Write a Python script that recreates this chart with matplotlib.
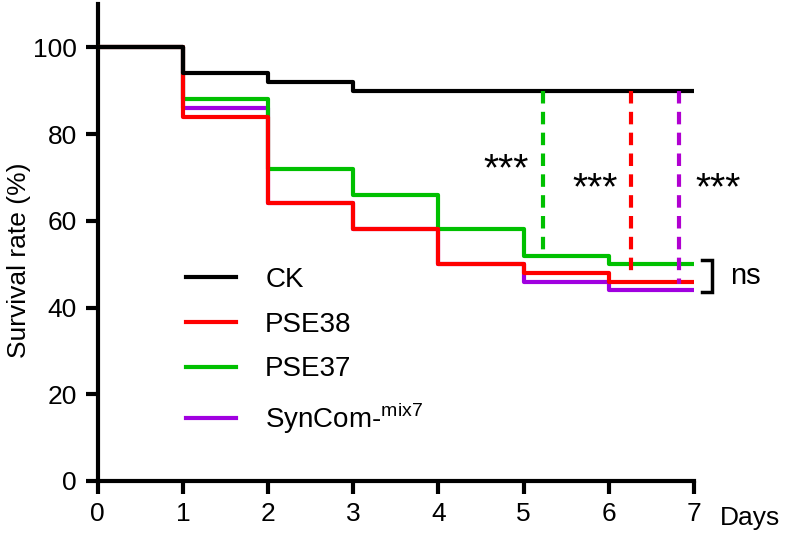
import matplotlib
matplotlib.use("Agg")
import matplotlib.pyplot as plt
import matplotlib.transforms as mtransforms

plt.rcParams['font.family'] = ['Liberation Sans', 'DejaVu Sans']
plt.rcParams['mathtext.fontset'] = 'custom'
plt.rcParams['mathtext.rm'] = 'Liberation Sans'

days = [0, 1, 2, 3, 4, 5, 6, 7]
ck = [100, 94, 92, 90, 90, 90, 90, 90]
pse38 = [100, 84, 64, 58, 50, 48, 46, 46]
pse37 = [100, 88, 72, 66, 58, 52, 50, 50]
syncom = [100, 86, 64, 58, 50, 46, 44, 44]

labels = ["CK", "PSE38", "PSE37", "SynCom-$^{\\mathrm{mix7}}$"]
colors = ["black", "#ff0000", "#00c000", "#a000e0"]

# dashed comparison lines: x position, bottom value
cmp_x = [5.23, 6.26, 6.82]
cmp_bottom = [53, 48.5, 45.5]
cmp_colors = ["#00c000", "#ff0000", "#b000d0"]
stars_pos = [(4.80, 69.4), (5.84, 65.0), (7.28, 65.0)]

fig = plt.figure(figsize=(7.86, 5.34), dpi=100)
ax = fig.add_axes([97.7/786, 53/534, (694-97.7)/786, 477/534])

lw = 3.0
ax.step(days, syncom, where='post', color=colors[3], lw=lw, zorder=2)
ax.step(days, pse37, where='post', color=colors[2], lw=lw, zorder=3)
ax.step(days, pse38, where='post', color=colors[1], lw=lw, zorder=4)
ax.step(days, ck, where='post', color=colors[0], lw=lw, zorder=5)

for x, yb, c in zip(cmp_x, cmp_bottom, cmp_colors):
    ax.plot([x, x], [ck[-1], yb], color=c, lw=lw, dashes=(3, 2), zorder=6)

for x, y in stars_pos:
    ax.text(x, y, "***", fontsize=28, ha='center', va='baseline', clip_on=False)

# ns bracket
ax.plot([7.09, 7.21, 7.21, 7.09], [50.9, 50.9, 43.6, 43.6], color='black',
        lw=2.5, clip_on=False, solid_joinstyle='miter')
ax.text(7.42, 47.3, "ns", fontsize=21, ha='left', va='center', clip_on=False)

handles = [plt.Line2D([], [], color=c, lw=lw) for c in colors]
ax.legend(handles, labels, loc='upper left', bbox_to_anchor=(186/786, 1 - 267/534),
          bbox_transform=fig.transFigure, frameon=False, fontsize=20,
          borderpad=0, borderaxespad=0, handlelength=1.8, handletextpad=1.05,
          labelspacing=0.67)

ax.set_xlim(0, 7)
ax.set_ylim(0, 110)
ax.set_xticks(days)
ax.set_yticks([0, 20, 40, 60, 80, 100])
ax.tick_params(labelsize=19, width=3, length=9, pad=6)
for s in ['top', 'right']:
    ax.spines[s].set_visible(False)
for s in ['left', 'bottom']:
    ax.spines[s].set_linewidth(3)
ax.set_ylabel("Survival rate (%)", fontsize=19)
ax.yaxis.set_label_coords(-0.112, 0.463)

trans = mtransforms.blended_transform_factory(ax.transData, ax.transAxes)
ax.text(7.3, -0.078, "Days", transform=trans, fontsize=19, ha='left', va='center',
        clip_on=False)

fig.savefig("out.png", dpi=100)
